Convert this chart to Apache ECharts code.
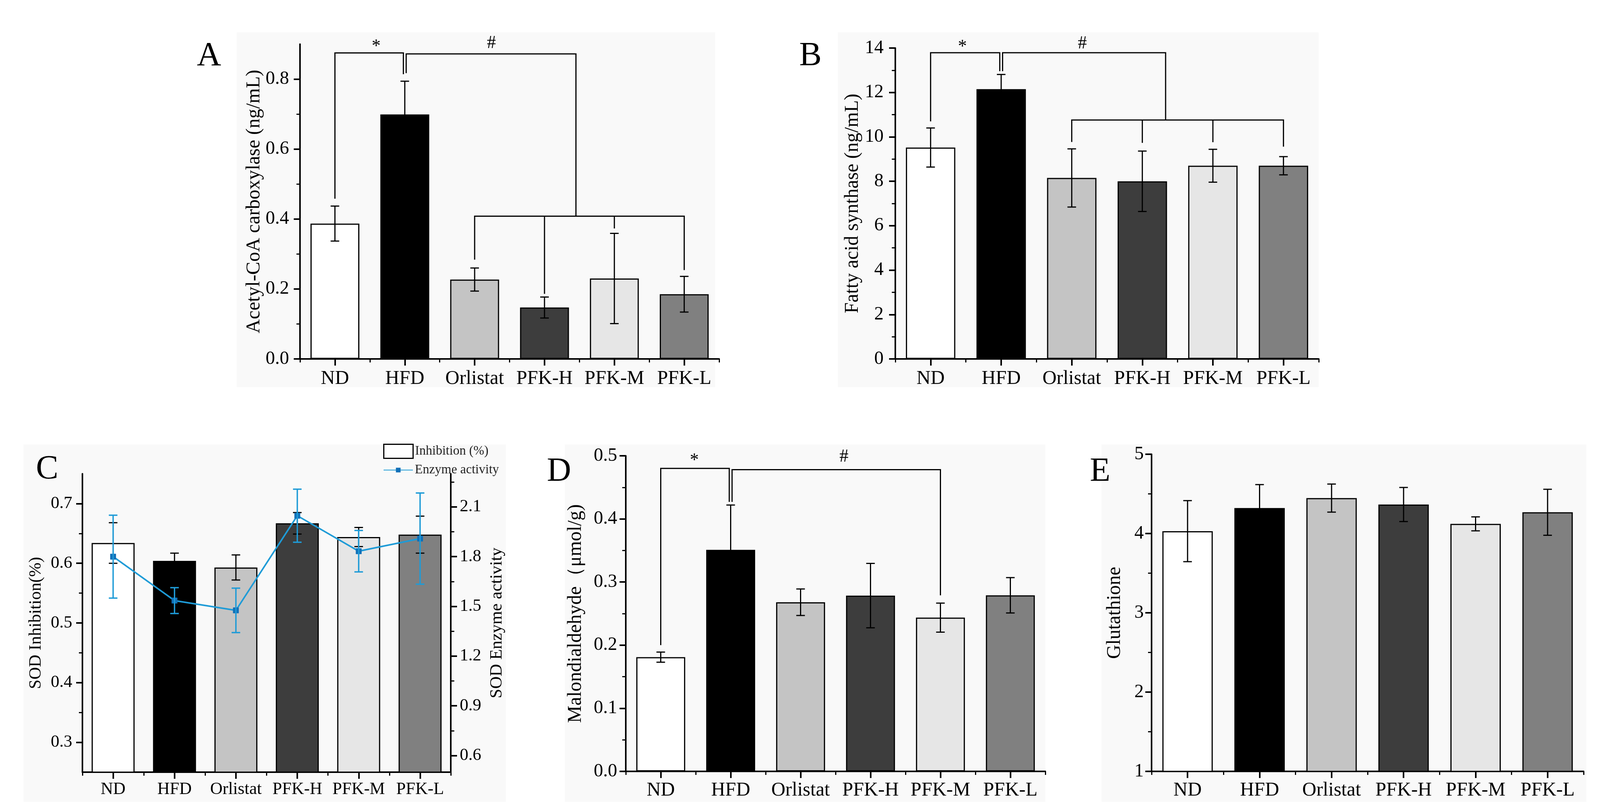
<!DOCTYPE html>
<html><head><meta charset="utf-8">
<script src="https://cdn.jsdelivr.net/npm/echarts@6/dist/echarts.min.js"></script>
<style>html,body{margin:0;padding:0;background:#fff}#chart{width:4130px;height:2079px}</style>
</head><body><div id="chart"></div>
<script>
const categories = ['ND', 'HFD', 'Orlistat', 'PFK-H', 'PFK-M', 'PFK-L'];

// A: Acetyl-CoA carboxylase
const accMean = [0.387, 0.699, 0.227, 0.147, 0.230, 0.185];
const accErr  = [0.050, 0.095, 0.033, 0.030, 0.129, 0.051];
const accTicks = [0, 0.2, 0.4, 0.6, 0.8];
const accMinor = [0.1, 0.3, 0.5, 0.7];
// B: Fatty acid synthase
const fasMean = [9.52, 12.15, 8.15, 8.00, 8.70, 8.70];
const fasErr  = [0.88, 0.66, 1.31, 1.36, 0.74, 0.41];
const fasTicks = [0, 2, 4, 6, 8, 10, 12, 14];
const fasMinor = [1, 3, 5, 7, 9, 11, 13];
// C: SOD
const sodInhMean = [0.634, 0.604, 0.593, 0.667, 0.644, 0.648];
const sodInhErr  = [0.034, 0.013, 0.021, 0.018, 0.016, 0.031];
const sodActMean = [1.80, 1.535, 1.476, 2.047, 1.833, 1.909];
const sodActErr  = [0.25, 0.078, 0.134, 0.16, 0.125, 0.275];
const sodInhTicks = [0.3, 0.4, 0.5, 0.6, 0.7];
const sodInhMinor = [0.35, 0.45, 0.55, 0.65];
const sodActTicks = [0.6, 0.9, 1.2, 1.5, 1.8, 2.1];
const sodActMinor = [0.75, 1.05, 1.35, 1.65, 1.95, 2.25];
// D: Malondialdehyde
const mdaMean = [0.181, 0.351, 0.268, 0.2785, 0.2436, 0.279];
const mdaErr  = [0.008, 0.071, 0.021, 0.051, 0.023, 0.028];
const mdaTicks = [0, 0.1, 0.2, 0.3, 0.4, 0.5];
const mdaMinor = [0.05, 0.15, 0.25, 0.35, 0.45];
// E: Glutathione
const gshMean = [4.03, 4.322, 4.447, 4.366, 4.122, 4.268];
const gshErr  = [0.385, 0.295, 0.177, 0.215, 0.088, 0.29];
const gshTicks = [1, 2, 3, 4, 5];
const gshMinor = [1.5, 2.5, 3.5, 4.5];

// significance brackets: polylines in (category index, value) space
const sigLinesA = [
  [[0, 0.458], [0, 0.875], [0.98, 0.875], [0.98, 0.814]],
  [[1.02, 0.817], [1.02, 0.872], [3.45, 0.872], [3.45, 0.408]],
  [[2, 0.284], [2, 0.408], [5, 0.408], [5, 0.254]],
  [[3, 0.408], [3, 0.186]],
  [[4, 0.408], [4, 0.373]]
];
const sigMarksA = [['*', 0.59, 0.892], ['#', 2.24, 0.902]];
const sigLinesB = [
  [[0, 10.7], [0, 13.79], [0.98, 13.79], [0.98, 12.96]],
  [[1.02, 12.96], [1.02, 13.79], [3.33, 13.79], [3.33, 10.76]],
  [[2, 9.77], [2, 10.76], [5, 10.76], [5, 9.56]],
  [[3, 10.76], [3, 9.73]],
  [[4, 10.76], [4, 9.76]]
];
const sigMarksB = [['*', 0.45, 14.03], ['#', 2.15, 14.2]];
const sigLinesD = [
  [[0, 0.2], [0, 0.48], [0.98, 0.48], [0.98, 0.427]],
  [[1.02, 0.427], [1.02, 0.478], [4, 0.478], [4, 0.279]]
];
const sigMarksD = [['*', 0.48, 0.492], ['#', 2.62, 0.498]];

const FF = 'Liberation Serif';
const barColors = ['#ffffff', '#000000', '#c4c4c4', '#3d3d3d', '#e6e6e6', '#808080'];

const grids = [
  {left: 768, top: 113, width: 1073, height: 806},
  {left: 2292, top: 123, width: 1084, height: 796},
  {left: 211, top: 1213, width: 943, height: 764},
  {left: 1602, top: 1167, width: 1074, height: 808},
  {left: 2948, top: 1163, width: 1106, height: 812}
];

const xAxes = [], yAxes = [], series = [];

function addX(gi, fs, margin) {
  xAxes.push({
    type: 'category', gridIndex: gi, data: categories, position: 'bottom', boundaryGap: true,
    axisLine: {show: true, onZero: false, lineStyle: {color: '#000', width: 4}},
    axisTick: {show: true, alignWithLabel: true, interval: 0, length: 17, lineStyle: {color: '#000', width: 4}},
    axisLabel: {interval: 0, margin: margin, fontFamily: FF, fontSize: fs, color: '#000'},
    splitLine: {show: false}
  });
  const main = xAxes.length - 1;
  xAxes.push({
    type: 'category', gridIndex: gi, data: categories, position: 'bottom', boundaryGap: true,
    axisLine: {show: false, onZero: false},
    axisTick: {show: true, alignWithLabel: false, interval: 0, length: 9, lineStyle: {color: '#000', width: 3}},
    axisLabel: {show: false}, splitLine: {show: false}
  });
  return main;
}

function addY(gi, pos, min, max, ticks, minor, dec, name, gap, fs, nfs, lm) {
  yAxes.push({
    type: 'value', gridIndex: gi, position: pos, min: min, max: max,
    name: name, nameLocation: 'middle', nameGap: gap, nameRotate: 90, nameMoveOverlap: false,
    nameTextStyle: {fontFamily: FF, fontSize: nfs, color: '#000'},
    axisLine: {show: true, onZero: false, lineStyle: {color: '#000', width: 4}},
    axisTick: {show: true, inside: false, length: 16, customValues: ticks, lineStyle: {color: '#000', width: 4}},
    axisLabel: {show: true, customValues: ticks, margin: lm, fontFamily: FF, fontSize: fs, color: '#000',
      formatter: function (v) { return Number(v).toFixed(dec); }},
    splitLine: {show: false}
  });
  const main = yAxes.length - 1;
  yAxes.push({
    type: 'value', gridIndex: gi, position: pos, min: min, max: max,
    axisLine: {show: false, onZero: false},
    axisTick: {show: true, inside: false, length: 9, customValues: minor, lineStyle: {color: '#000', width: 3}},
    axisLabel: {show: false}, splitLine: {show: false}
  });
  return main;
}

function errRender(color, lw, capHalf) {
  return function (params, api) {
    const i = api.value(0), v = api.value(1), e = api.value(2);
    const t = api.coord([i, v + e]), b = api.coord([i, v - e]);
    const st = {stroke: color, lineWidth: lw};
    return {type: 'group', children: [
      {type: 'line', shape: {x1: t[0], y1: t[1], x2: b[0], y2: b[1]}, style: st},
      {type: 'line', shape: {x1: t[0] - capHalf, y1: t[1], x2: t[0] + capHalf, y2: t[1]}, style: st},
      {type: 'line', shape: {x1: b[0] - capHalf, y1: b[1], x2: b[0] + capHalf, y2: b[1]}, style: st}
    ]};
  };
}

function addErr(xi, yi, mean, err, color, lw, z) {
  series.push({
    type: 'custom', xAxisIndex: xi, yAxisIndex: yi, z: z, clip: false, silent: true,
    data: mean.map(function (m, k) { return [k, m, err[k]]; }),
    encode: {x: 0, y: 1},
    renderItem: errRender(color, lw, 11)
  });
}

function addBars(xi, yi, mean, name) {
  series.push({
    type: 'bar', name: name, xAxisIndex: xi, yAxisIndex: yi, barWidth: '70%', z: 2,
    itemStyle: {color: '#ffffff', borderColor: '#000', borderWidth: 3},
    data: mean.map(function (m, k) { return {value: m, itemStyle: {color: barColors[k]}}; })
  });
}

function addBrackets(xi, yi, lines, marks) {
  series.push({
    type: 'custom', xAxisIndex: xi, yAxisIndex: yi, z: 6, clip: false, silent: true,
    data: [[0, 0]], encode: {x: 0, y: 1},
    renderItem: function (params, api) {
      function px(x, y) {
        const p0 = api.coord([0, y]), p1 = api.coord([1, y]);
        return [p0[0] + x * (p1[0] - p0[0]), p0[1]];
      }
      const ch = lines.map(function (pts) {
        return {type: 'polyline', shape: {points: pts.map(function (p) { return px(p[0], p[1]); })},
          style: {stroke: '#000', lineWidth: 3, fill: 'none'}};
      });
      marks.forEach(function (m) {
        const p = px(m[1], m[2]);
        ch.push({type: 'text', x: p[0], y: p[1], style: {text: m[0], fontFamily: FF, fontSize: 46,
          fill: '#000', align: 'center', verticalAlign: 'middle'}});
      });
      return {type: 'group', children: ch};
    }
  });
}

// Panel A
let xi = addX(0, 50, 26);
let yi = addY(0, 'left', 0, 0.9, accTicks, accMinor, 1, 'Acetyl-CoA carboxylase (ng/mL)', 92, 48, 50, 28);
addBars(xi, yi, accMean, 'Acetyl-CoA carboxylase');
addErr(xi, yi, accMean, accErr, '#000', 3, 4);
addBrackets(xi, yi, sigLinesA, sigMarksA);

// Panel B
xi = addX(1, 50, 26);
yi = addY(1, 'left', 0, 14, fasTicks, fasMinor, 0, 'Fatty acid synthase (ng/mL)', 84, 48, 50, 30);
addBars(xi, yi, fasMean, 'Fatty acid synthase');
addErr(xi, yi, fasMean, fasErr, '#000', 3, 4);
addBrackets(xi, yi, sigLinesB, sigMarksB);

// Panel C
xi = addX(2, 44, 22);
yi = addY(2, 'left', 0.25, 0.75, sodInhTicks, sodInhMinor, 1, 'SOD Inhibition(%)', 97, 44, 44, 26);
const yiR = addY(2, 'right', 0.5, 2.3, sodActTicks, sodActMinor, 1, 'SOD Enzyme activity', 96, 44, 44, 23);
addBars(xi, yi, sodInhMean, 'Inhibition (%)');
addErr(xi, yi, sodInhMean, sodInhErr, '#000', 3, 3);
series.push({
  type: 'line', name: 'Enzyme activity', xAxisIndex: xi, yAxisIndex: yiR, z: 5,
  data: sodActMean, symbol: 'rect', symbolSize: 14, showSymbol: true,
  lineStyle: {color: '#1e9bd7', width: 4},
  itemStyle: {color: '#1170b8', borderColor: '#1170b8'}
});
addErr(xi, yiR, sodActMean, sodActErr, '#1e9bd7', 3.5, 6);

// Panel D
xi = addX(3, 50, 24);
yi = addY(3, 'left', 0, 0.5, mdaTicks, mdaMinor, 1, 'Malondialdehyde（μmol/g)', 103, 48, 50, 22);
addBars(xi, yi, mdaMean, 'Malondialdehyde');
addErr(xi, yi, mdaMean, mdaErr, '#000', 3, 4);
addBrackets(xi, yi, sigLinesD, sigMarksD);

// Panel E
xi = addX(4, 50, 24);
yi = addY(4, 'left', 1, 5, gshTicks, gshMinor, 0, 'Glutathione', 69, 48, 50, 20);
addBars(xi, yi, gshMean, 'Glutathione');
addErr(xi, yi, gshMean, gshErr, '#000', 3, 4);

const bgRects = [[606, 83, 1225, 908], [2145, 83, 1231, 908], [60, 1138, 1235, 915], [1446, 1138, 1230, 915], [2820, 1138, 1241, 915]];
const letters = [['A', 504, 144], ['B', 2046, 144], ['C', 92, 1202], ['D', 1400, 1208], ['E', 2790, 1208]];
const graphics = [];
bgRects.forEach(function (r) {
  graphics.push({type: 'rect', z: -10, silent: true, shape: {x: r[0], y: r[1], width: r[2], height: r[3]}, style: {fill: '#f9f9f9'}});
});
letters.forEach(function (l) {
  graphics.push({type: 'text', x: l[1], y: l[2], z: 10, style: {text: l[0], fontFamily: FF, fontSize: 86, fill: '#000', align: 'left', verticalAlign: 'middle'}});
});

const option = {
  animation: false,
  backgroundColor: '#ffffff',
  textStyle: {fontFamily: FF},
  grid: grids.map(function (g) { return Object.assign({containLabel: false, outerBoundsMode: 'none'}, g); }),
  xAxis: xAxes,
  yAxis: yAxes,
  legend: [
    {data: ['Inhibition (%)'], left: 981, top: 1136, padding: 0, orient: 'vertical', itemWidth: 75, itemHeight: 36, itemGap: 8,
      selectedMode: false, icon: 'rect', textStyle: {fontFamily: FF, fontSize: 33, color: '#222'},
      itemStyle: {color: '#fff', borderColor: '#000', borderWidth: 3}},
    {data: ['Enzyme activity'], left: 981, top: 1187, padding: 0, orient: 'vertical', itemWidth: 75, itemHeight: 15, itemGap: 8,
      selectedMode: false, textStyle: {fontFamily: FF, fontSize: 33, color: '#222'}}
  ],
  graphic: graphics,
  series: series
};

const chart = echarts.init(document.getElementById('chart'), null, {renderer: 'canvas', width: 4130, height: 2079});
chart.setOption(option);
</script>
</body></html>
